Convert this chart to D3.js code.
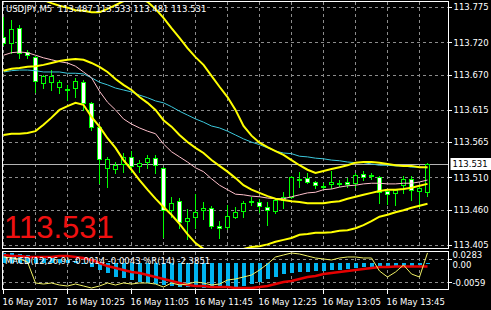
<!DOCTYPE html>
<html>
<head>
<meta charset="utf-8">
<title>USDJPY M5</title>
<script src="https://cdn.jsdelivr.net/npm/d3@7"></script>
<style>
  body { margin: 0; background: #000; }
  svg { display: block; font-family: "DejaVu Sans", sans-serif; }
  .grid line { stroke: #8c8c8c; stroke-dasharray: 3,3; shape-rendering: crispEdges; }
  .axis text { fill: #fff; font-size: 8.5px; }
  .axis line { stroke: #fff; shape-rendering: crispEdges; }
</style>
</head>
<body>
<svg width="491" height="310"></svg>
<script>
// USDJPY M5, 16 May 2017, 54 bars starting 09:45
const opens  = [113.728,113.719,113.742,113.705,113.697,113.657,113.659,113.651,113.648,113.649,113.659,113.626,113.589,113.525,113.523,113.531,113.542,113.528,113.534,113.540,113.525,113.459,113.473,113.442,113.449,113.459,113.463,113.435,113.433,113.449,113.458,113.472,113.472,113.464,113.458,113.475,113.480,113.508,113.509,113.503,113.495,113.500,113.501,113.503,113.501,113.515,113.514,113.511,113.489,113.486,113.498,113.508,113.489,113.487];
const highs  = [113.760,113.755,113.747,113.708,113.699,113.669,113.677,113.662,113.654,113.665,113.662,113.627,113.590,113.542,113.534,113.548,113.551,113.537,113.545,113.545,113.526,113.480,113.478,113.461,113.484,113.472,113.466,113.442,113.467,113.464,113.473,113.480,113.477,113.472,113.478,113.487,113.512,113.519,113.517,113.504,113.501,113.520,113.506,113.509,113.517,113.520,113.517,113.512,113.490,113.492,113.512,113.512,113.497,113.533];
const lows   = [113.716,113.704,113.696,113.696,113.643,113.649,113.646,113.641,113.631,113.635,113.615,113.584,113.501,113.495,113.517,113.519,113.519,113.519,113.525,113.517,113.417,113.449,113.431,113.414,113.431,113.445,113.431,113.416,113.430,113.447,113.449,113.467,113.456,113.436,113.455,113.463,113.478,113.495,113.501,113.494,113.492,113.494,113.497,113.495,113.495,113.506,113.508,113.470,113.469,113.467,113.486,113.475,113.464,113.481];
const closes = [113.719,113.741,113.704,113.700,113.660,113.668,113.668,113.659,113.647,113.660,113.626,113.589,113.539,113.539,113.529,113.542,113.528,113.533,113.540,113.529,113.459,113.470,113.441,113.447,113.456,113.463,113.435,113.431,113.450,113.456,113.470,113.473,113.466,113.459,113.475,113.480,113.511,113.507,113.503,113.498,113.496,113.503,113.502,113.500,113.514,113.511,113.513,113.487,113.484,113.491,113.508,113.491,113.494,113.531];

// bollinger bands (yellow)
const bandUpper = [113.798,113.800,113.798,113.795,113.791,113.786,113.781,113.777,113.774,113.770,113.769,113.767,113.767,113.772,113.778,113.784,113.789,113.789,113.783,113.772,113.758,113.742,113.727,113.711,113.697,113.685,113.668,113.651,113.635,113.615,113.590,113.575,113.564,113.557,113.551,113.545,113.537,113.529,113.522,113.517,113.520,113.523,113.526,113.529,113.533,113.534,113.534,113.533,113.531,113.529,113.528,113.528,113.526,113.526];
const bandMid   = [113.676,113.679,113.680,113.682,113.683,113.685,113.688,113.691,113.693,113.694,113.693,113.688,113.682,113.674,113.663,113.654,113.646,113.635,113.626,113.615,113.599,113.589,113.576,113.565,113.556,113.548,113.537,113.528,113.519,113.509,113.498,113.491,113.486,113.481,113.477,113.475,113.473,113.472,113.470,113.470,113.470,113.472,113.473,113.477,113.480,113.483,113.486,113.489,113.491,113.491,113.492,113.494,113.497,113.500];
const bandLower = [113.576,113.578,113.578,113.579,113.582,113.592,113.603,113.615,113.621,113.626,113.623,113.604,113.589,113.571,113.556,113.537,113.522,113.506,113.491,113.477,113.464,113.452,113.438,113.422,113.408,113.399,113.389,113.385,113.386,113.393,113.399,113.402,113.403,113.406,113.410,113.413,113.416,113.421,113.422,113.424,113.424,113.425,113.427,113.428,113.431,113.436,113.442,113.449,113.452,113.456,113.459,113.463,113.466,113.469];

// moving averages
const maFast = [113.700,113.704,113.705,113.704,113.700,113.696,113.693,113.690,113.688,113.683,113.674,113.665,113.644,113.627,113.615,113.601,113.593,113.587,113.582,113.578,113.562,113.550,113.542,113.534,113.525,113.519,113.508,113.498,113.491,113.484,113.483,113.481,113.480,113.478,113.477,113.477,113.480,113.483,113.486,113.487,113.491,113.492,113.495,113.497,113.498,113.500,113.501,113.501,113.500,113.500,113.501,113.501,113.503,113.506];
const maSlow = [113.674,113.676,113.677,113.677,113.676,113.674,113.674,113.674,113.672,113.672,113.671,113.665,113.658,113.654,113.649,113.646,113.643,113.638,113.634,113.629,113.626,113.620,113.613,113.607,113.601,113.596,113.590,113.587,113.582,113.576,113.570,113.565,113.561,113.556,113.551,113.548,113.547,113.543,113.542,113.540,113.539,113.537,113.536,113.534,113.533,113.533,113.531,113.529,113.529,113.528,113.528,113.526,113.526,113.525];

// MACD(12,26,9) and %R(14)
const macdMain = [0.0102,0.0102,0.0091,0.0081,0.0070,0.0059,0.0048,0.0038,0.0027,0.0016,-0.0016,-0.0048,-0.0081,-0.0113,-0.0156,-0.0167,-0.0188,-0.0210,-0.0220,-0.0231,-0.0242,-0.0253,-0.0263,-0.0263,-0.0263,-0.0274,-0.0274,-0.0274,-0.0274,-0.0263,-0.0253,-0.0231,-0.0210,-0.0177,-0.0156,-0.0124,-0.0113,-0.0102,-0.0102,-0.0091,-0.0091,-0.0081,-0.0081,-0.0070,-0.0059,-0.0048,-0.0048,-0.0048,-0.0048,-0.0038,-0.0038,-0.0038,-0.0027,-0.0014];
const macdSignal = [0.0081,0.0070,0.0070,0.0059,0.0059,0.0059,0.0059,0.0070,0.0070,0.0059,0.0048,0.0027,-0.0005,-0.0038,-0.0059,-0.0081,-0.0102,-0.0113,-0.0134,-0.0156,-0.0177,-0.0199,-0.0220,-0.0242,-0.0253,-0.0253,-0.0263,-0.0263,-0.0263,-0.0274,-0.0274,-0.0274,-0.0263,-0.0253,-0.0231,-0.0210,-0.0199,-0.0177,-0.0156,-0.0145,-0.0124,-0.0113,-0.0102,-0.0091,-0.0081,-0.0070,-0.0059,-0.0048,-0.0048,-0.0043,-0.0043,-0.0043,-0.0043,-0.0043];
const wpr = [-13.5,-16.2,-18.9,-27,-83.8,-86.5,-83.8,-89.2,-91.9,-86.5,-91.9,-97.3,-91.9,-83.8,-89.2,-83.8,-86.5,-83.8,-83.8,-86.5,-94.6,-83.8,-89.2,-86.5,-81.1,-83.8,-89.2,-86.5,-75.7,-73,-67.6,-62.2,-48.6,-32.4,-13.5,-8.1,-2.7,-5.4,-10.8,-16.2,-18.9,-21.6,-16.2,-13.5,-13.5,-16.2,-16.2,-51.4,-67.6,-54.1,-35.1,-59.5,-67.6,-2.4];
const wprLevels = [-20, -80];

const priceTicks = [113.775, 113.720, 113.670, 113.615, 113.565, 113.510, 113.460, 113.405];
const timeTickBars = [0, 8, 16, 24, 32, 40, 48];
const timeLabels = ["16 May 2017", "16 May 10:25", "16 May 11:05", "16 May 11:45", "16 May 12:25", "16 May 13:05", "16 May 13:45"];
const lastPrice = 113.531;
const header = "USDJPY,M5  113.487 113.533 113.481 113.531";
const subHeader = "MACD(12,26,9) -0.0014 -0.0043 %R(14) -2.3851";
const subLabels = ["0.0283", "0.00", "-0.0059"];

const svg = d3.select("svg");
const L = 2.5, R = 448.5, T = 1.5, B = 248.5, ST = 251.5, SB = 289.5;

svg.append("rect").attr("width", 491).attr("height", 310).attr("fill", "#000");

const x = d3.scaleLinear().domain([0, opens.length - 1]).range([3, 427]);
const y = d3.scaleLinear().domain([113.405, 113.775]).range([245, 7]);
const yMacd = d3.scaleLinear().domain([-0.0285, 0.0124]).range([289, 251]);
const yWpr = d3.scaleLinear().domain([-100, 0]).range([289, 252]);
const px = i => Math.round(x(i)) + 0.5;

const defs = svg.append("defs");
defs.append("clipPath").attr("id", "clipMain")
  .append("rect").attr("x", L + 0.5).attr("y", T + 0.5).attr("width", R - L - 1).attr("height", B - T - 1);
defs.append("clipPath").attr("id", "clipSub")
  .append("rect").attr("x", L + 0.5).attr("y", ST + 0.5).attr("width", R - L - 1).attr("height", SB - ST - 1);

// grid
const gridBars = d3.range(0, opens.length, 4);
const grid = svg.append("g").attr("class", "grid");
grid.selectAll(".hv").data(priceTicks).join("line")
  .attr("x1", L).attr("x2", R)
  .attr("y1", d => Math.round(y(d)) + 0.5).attr("y2", d => Math.round(y(d)) + 0.5);
grid.selectAll(".vm").data(gridBars).join("line").attr("class", "vm")
  .attr("x1", px).attr("x2", px).attr("y1", T).attr("y2", B);
grid.selectAll(".vs").data(gridBars).join("line").attr("class", "vs")
  .attr("x1", px).attr("x2", px).attr("y1", ST).attr("y2", SB);
grid.selectAll(".lv").data(wprLevels).join("line").attr("class", "lv")
  .attr("x1", L).attr("x2", R)
  .attr("y1", d => Math.round(yWpr(d)) + 0.5).attr("y2", d => Math.round(yWpr(d)) + 0.5);

const main = svg.append("g").attr("clip-path", "url(#clipMain)");

// bid line
main.append("line")
  .attr("x1", L).attr("x2", R)
  .attr("y1", Math.round(y(lastPrice)) + 0.5).attr("y2", Math.round(y(lastPrice)) + 0.5)
  .attr("stroke", "#b4b4b4").attr("shape-rendering", "crispEdges");

// candles
const candles = main.append("g").attr("shape-rendering", "crispEdges");
opens.forEach((o, i) => {
  const c = closes[i];
  candles.append("line")
    .attr("x1", px(i)).attr("x2", px(i))
    .attr("y1", Math.round(y(highs[i]))).attr("y2", Math.round(y(lows[i])) + 1)
    .attr("stroke", "#00ff00");
  const top = Math.round(y(Math.max(o, c)));
  const bot = Math.round(y(Math.min(o, c)));
  candles.append("rect")
    .attr("x", px(i) - 2).attr("width", 4)
    .attr("y", top + 0.5).attr("height", Math.max(1, bot - top))
    .attr("fill", c >= o ? "#000" : "#fff")
    .attr("stroke", "#00ff00");
});

// indicator lines
const lineOf = (yy) => d3.line().x((d, i) => x(i) + 0.5).y(d => yy(d));
[[maSlow, "#3cc8dc", 1], [maFast, "#ffc0cb", 1], [bandUpper, "#ffff00", 2], [bandMid, "#ffff00", 2], [bandLower, "#ffff00", 2]]
  .forEach(([vals, col, w]) => {
    main.append("path").attr("d", lineOf(y)(vals))
      .attr("fill", "none").attr("stroke", col).attr("stroke-width", w);
  });

// sub window
const sub = svg.append("g").attr("clip-path", "url(#clipSub)");
sub.append("g").attr("shape-rendering", "crispEdges")
  .selectAll("rect").data(macdMain).join("rect")
  .attr("x", (d, i) => Math.round(x(i)) - 1.5).attr("width", 4)
  .attr("y", d => Math.min(yMacd(0), yMacd(d)))
  .attr("height", d => Math.abs(yMacd(d) - yMacd(0)))
  .attr("fill", "#00b4f0");
sub.append("path").attr("d", lineOf(yMacd)(macdSignal))
  .attr("fill", "none").attr("stroke", "#e60000").attr("stroke-width", 2.5);
sub.append("path").attr("d", lineOf(yWpr)(wpr))
  .attr("fill", "none").attr("stroke", "#f0f064").attr("stroke-width", 1);

// frames
[[T, B], [ST, SB]].forEach(([t, b]) => {
  svg.append("rect").attr("x", L).attr("y", t).attr("width", R - L).attr("height", b - t)
    .attr("fill", "none").attr("stroke", "#fff").attr("shape-rendering", "crispEdges");
});

// price axis
const yAxis = svg.append("g").attr("class", "axis")
  .attr("transform", `translate(${R},0)`)
  .call(d3.axisRight(y).tickValues(priceTicks).tickFormat(d3.format(".3f")).tickSize(3).tickPadding(2));
yAxis.select(".domain").remove();
yAxis.selectAll("text").attr("font-size", 8.5).attr("font-family", "DejaVu Sans");

// time axis
const xAxis = svg.append("g").attr("class", "axis")
  .attr("transform", `translate(0,${SB})`)
  .call(d3.axisBottom(x).tickValues(timeTickBars).tickFormat((d, k) => timeLabels[k]).tickSize(4).tickPadding(5));
xAxis.select(".domain").remove();
xAxis.selectAll(".tick").attr("transform", d => `translate(${px(d)},0)`);
xAxis.selectAll("text").attr("text-anchor", "start").attr("x", -1)
  .attr("font-size", 8.5).attr("font-family", "DejaVu Sans");

// sub window labels on the right
const subY = [ST + 4, yMacd(0) + 2.5, yWpr(-80) + 1.5];
svg.append("g").attr("class", "axis").selectAll("text").data(subLabels).join("text")
  .attr("x", R + 4).attr("y", (d, k) => subY[k]).attr("dy", "0.35em").text(d => d);
svg.append("g").attr("class", "axis").selectAll("line").data(wprLevels).join("line")
  .attr("x1", R).attr("x2", R + 3)
  .attr("y1", d => Math.round(yWpr(d)) + 0.5).attr("y2", d => Math.round(yWpr(d)) + 0.5);

// current price tag
const ly = Math.round(y(lastPrice));
svg.append("rect").attr("x", R + 2).attr("y", ly - 6).attr("width", 41).attr("height", 12).attr("fill", "#fff");
svg.append("text").attr("x", R + 4).attr("y", ly).attr("dy", "0.35em")
  .attr("font-size", 8.5).attr("fill", "#000").text(d3.format(".3f")(lastPrice));

// texts
svg.append("text").attr("x", 6).attr("y", 12).attr("font-size", 8.5).attr("fill", "#fff")
  .attr("xml:space", "preserve").text(header);
svg.append("text").attr("x", 5).attr("y", 264).attr("font-size", 8.5).attr("fill", "#fff").text(subHeader);
svg.append("text").attr("x", 4).attr("y", 238)
  .attr("font-family", "Liberation Sans, Arial, sans-serif").attr("font-size", 31)
  .attr("fill", "#f01010").text(d3.format(".3f")(lastPrice));
</script>
</body>
</html>
